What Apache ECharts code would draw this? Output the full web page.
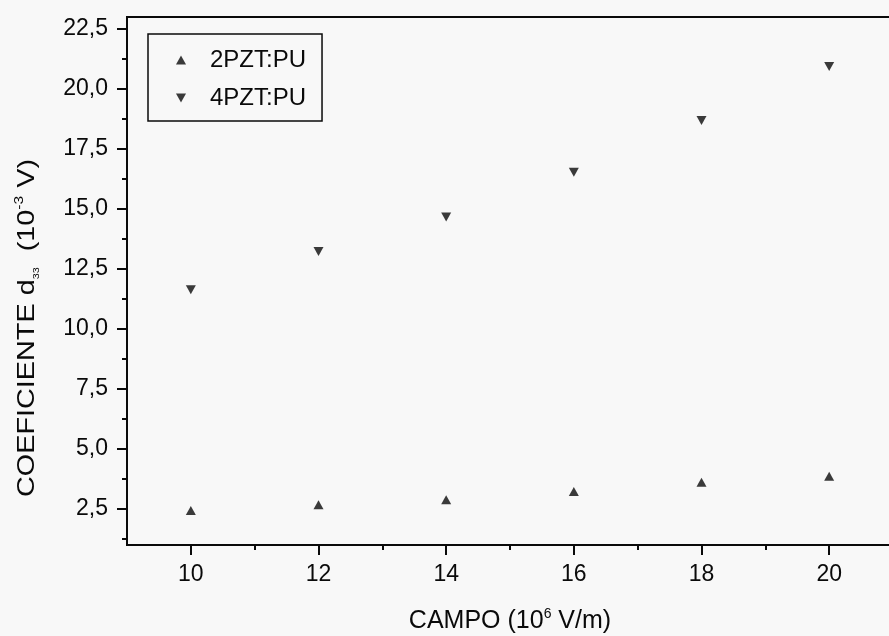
<!DOCTYPE html>
<html>
<head>
<meta charset="utf-8">
<script src="https://cdn.jsdelivr.net/npm/echarts@6/dist/echarts.min.js"></script>
<style>html,body{margin:0;padding:0;background:#f8f8f8;}#c{width:889px;height:636px;}</style>
</head>
<body>
<div id="c"></div>
<script>
// ---- data ----
const campo = [10, 12, 14, 16, 18, 20];
const d33_2PZT = [2.44, 2.68, 2.89, 3.23, 3.61, 3.86];
const d33_4PZT = [11.64, 13.23, 14.67, 16.53, 18.69, 20.94];
const seriesNames = ['2PZT:PU', '4PZT:PU'];
const xMajorTicks = [10, 12, 14, 16, 18, 20];
const xMinorTicks = [11, 13, 15, 17, 19, 21];
const yMajorTicks = [2.5, 5, 7.5, 10, 12.5, 15, 17.5, 20, 22.5];
const yMinorTicks = [1.25, 3.75, 6.25, 8.75, 11.25, 13.75, 16.25, 18.75, 21.25];

const FONT = '"Liberation Sans", Arial, Helvetica, sans-serif';
const ink = '#0a0a0a';
const UP = 'triangle';
const DOWN = 'path://M0,0 L10,0 L5,9 Z';

const chart = echarts.init(document.getElementById('c'), null, {renderer: 'canvas'});
const pair = (xs, ys) => xs.map((x, i) => [x, ys[i]]);

const baseX = {type: 'value', min: 9, max: 21, position: 'bottom', splitLine: {show: false}};
const baseY = {type: 'value', min: 1, max: 23, position: 'left', splitLine: {show: false}};

chart.setOption({
  backgroundColor: '#f8f8f8',
  animation: false,
  grid: {left: 127, top: 17, bottom: 91, right: -4, containLabel: false, outerBoundsMode: 'none',
    show: true, borderColor: ink, borderWidth: 2, backgroundColor: 'transparent'},
  legend: {
    orient: 'vertical', left: 148, top: 34, align: 'left',
    itemWidth: 10, itemHeight: 9, itemGap: 12,
    padding: [13, 16, 10, 28],
    borderColor: ink, borderWidth: 1.5,
    textStyle: {fontFamily: FONT, fontSize: 24, lineHeight: 26, color: ink, padding: [0, 0, 0, 19]},
    data: [{name: seriesNames[0], icon: UP}, {name: seriesNames[1], icon: DOWN}]
  },
  xAxis: [
    Object.assign({}, baseX, {
      axisLine: {show: true, lineStyle: {color: ink, width: 2}},
      axisTick: {show: true, length: 10, lineStyle: {color: ink, width: 2}, customValues: xMajorTicks},
      axisLabel: {show: true, margin: 18, fontFamily: FONT, fontSize: 23, color: ink, customValues: xMajorTicks},
      name: '{a|CAMPO (10}{s|6}{a| V/m)}', nameLocation: 'middle', nameGap: 62,
      nameTextStyle: {rich: {
        a: {fontFamily: FONT, fontSize: 25, color: ink, lineHeight: 28},
        s: {fontFamily: FONT, fontSize: 14, color: ink, verticalAlign: 'top', lineHeight: 28}
      }}
    }),
    Object.assign({}, baseX, {
      axisLine: {show: false},
      axisTick: {show: true, length: 5, lineStyle: {color: ink, width: 2}, customValues: xMinorTicks},
      axisLabel: {show: false}
    })
  ],
  yAxis: [
    Object.assign({}, baseY, {
      axisLine: {show: true, lineStyle: {color: ink, width: 2}},
      axisTick: {show: true, length: 10, lineStyle: {color: ink, width: 2}, customValues: yMajorTicks},
      axisLabel: {show: true, margin: 19, fontFamily: FONT, fontSize: 23, color: ink, customValues: yMajorTicks,
        formatter: v => v.toFixed(1).replace('.', ',')}
    }),
    Object.assign({}, baseY, {
      axisLine: {show: false},
      axisTick: {show: true, length: 5, lineStyle: {color: ink, width: 2}, customValues: yMinorTicks},
      axisLabel: {show: false}
    })
  ],
  graphic: [{
    type: 'text', x: 27, y: 328, rotation: Math.PI / 2, scaleX: 1.2,
    style: {
      text: '{m|COEFICIENTE d}{b|33}{m|  (10}{p|-3}{m| V)}',
      align: 'center', verticalAlign: 'middle', textAlign: 'center', textVerticalAlign: 'middle',
      fill: ink,
      rich: {
        m: {fontFamily: FONT, fontSize: 24, fill: ink, lineHeight: 28},
        b: {fontFamily: FONT, fontSize: 9, fill: ink, verticalAlign: 'bottom', lineHeight: 28},
        p: {fontFamily: FONT, fontSize: 13, fill: ink, verticalAlign: 'top', lineHeight: 28}
      }
    }
  }],
  series: [
    {name: seriesNames[0], type: 'scatter', xAxisIndex: 0, yAxisIndex: 0,
      symbol: UP, symbolSize: [10, 9], itemStyle: {color: ink},
      data: pair(campo, d33_2PZT)},
    {name: seriesNames[1], type: 'scatter', xAxisIndex: 0, yAxisIndex: 0,
      symbol: DOWN, symbolSize: [10, 9], itemStyle: {color: ink},
      data: pair(campo, d33_4PZT)}
  ]
});
</script>
</body>
</html>
